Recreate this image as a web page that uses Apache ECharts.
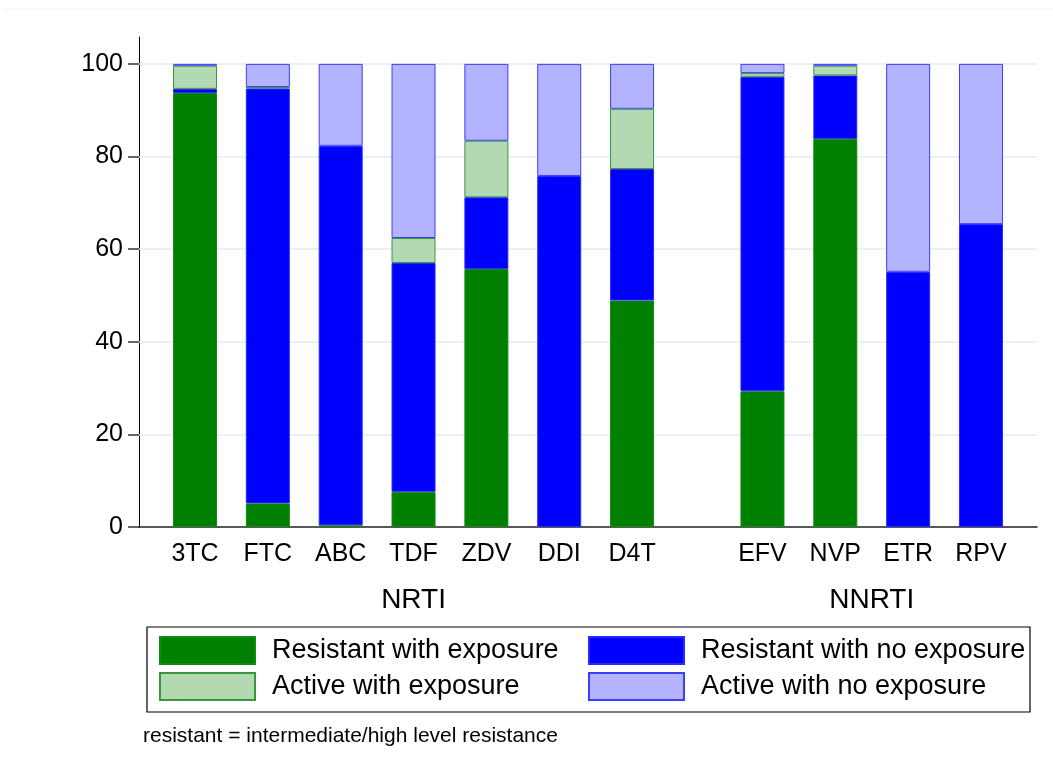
<!DOCTYPE html>
<html>
<head>
<meta charset="utf-8">
<script src="https://cdn.jsdelivr.net/npm/echarts@6/dist/echarts.min.js"></script>
<style>
  html, body { margin: 0; padding: 0; background: #fff; }
  #chart { width: 1053px; height: 772px; }
</style>
</head>
<body>
<div id="chart"></div>
<script>
// Drug classes and the drugs within each class
const groupNames = ['NRTI', 'NNRTI'];
const nrtiDrugs = ['3TC', 'FTC', 'ABC', 'TDF', 'ZDV', 'DDI', 'D4T'];
const nnrtiDrugs = ['EFV', 'NVP', 'ETR', 'RPV'];

// Percent of patients in each category, one value per drug (NRTI then NNRTI)
const resistantWithExposure   = [93.7, 5.1, 0.4, 7.6, 55.7, 0, 48.9, 29.3, 83.8, 0, 0];
const resistantNoExposure     = [0.9, 89.6, 81.9, 49.4, 15.5, 75.8, 28.4, 67.9, 13.7, 55.1, 65.4];
const activeWithExposure      = [5.0, 0.3, 0, 5.4, 12.2, 0, 13.0, 0.8, 2.1, 0, 0];
const activeNoExposure        = [0.4, 5.0, 17.7, 37.6, 16.6, 24.2, 9.7, 2.0, 0.4, 44.9, 34.6];

// Y axis tick labels
const yTicks = [0, 20, 40, 60, 80, 100];

const seriesNames = ['Resistant with exposure', 'Resistant with no exposure',
                     'Active with exposure', 'Active with no exposure'];

// ---- layout of the bar slots along the x axis ----
const GROUP_GAP = 1.79;          // slot distance between last NRTI and first NNRTI bar
const X_PAD_LEFT = 0.769;
const X_PAD_RIGHT = 0.769;
const drugs = nrtiDrugs.concat(nnrtiDrugs);
const slot = drugs.map((d, i) => i < nrtiDrugs.length ? i : (nrtiDrugs.length - 1) + GROUP_GAP + (i - nrtiDrugs.length));
const groupCenters = [
  (slot[0] + slot[nrtiDrugs.length - 1]) / 2,
  (slot[nrtiDrugs.length] + slot[drugs.length - 1]) / 2
];
const xMin = -X_PAD_LEFT;
const xMax = slot[slot.length - 1] + X_PAD_RIGHT;

function nearestIndex(arr, v) {
  let best = 0, bd = Infinity;
  arr.forEach((a, i) => { const d = Math.abs(a - v); if (d < bd) { bd = d; best = i; } });
  return best;
}

const FONT = '"Liberation Sans", Arial, Helvetica, sans-serif';

const styles = [
  { color: '#008000', borderColor: '#138a13' },
  { color: '#0000ff', borderColor: '#2a2aff' },
  { color: '#b3d9b3', borderColor: '#3a963a' },
  { color: '#b3b3ff', borderColor: '#3c3cff' }
];
const valueSets = [resistantWithExposure, resistantNoExposure, activeWithExposure, activeNoExposure];

// Each point is [percent, slot]; the percent comes first so the stack is built on y.
const series = valueSets.map((vals, k) => ({
  name: seriesNames[k],
  type: 'bar',
  stack: 'total',
  barWidth: 44,
  xAxisIndex: 0,
  yAxisIndex: 0,
  z: 3,
  encode: { x: 1, y: 0 },
  itemStyle: { color: styles[k].color, borderColor: styles[k].borderColor, borderWidth: 1 },
  emphasis: { disabled: true },
  data: vals.map((v, i) => [v === 0 ? '-' : v, slot[i]])
}));

// horizontal grid lines at the labelled ticks, kept behind the bars
series[0].markLine = {
  silent: true,
  z: 1,
  symbol: 'none',
  label: { show: false },
  lineStyle: { color: '#e4edef', width: 1.5, type: 'solid' },
  data: yTicks.filter(t => t > 0).map(t => ({ yAxis: t }))
};

// one legend box per entry so the two columns line up
const legendPos = [
  { left: 159, top: 636 }, { left: 588, top: 636 },
  { left: 159, top: 672 }, { left: 588, top: 672 }
];
const legends = seriesNames.map((n, k) => ({
  data: [n],
  left: legendPos[k].left,
  top: legendPos[k].top,
  padding: 0,
  itemWidth: 95,
  itemHeight: 27,
  icon: 'rect',
  selectedMode: false,
  textStyle: { fontSize: 27, color: '#000', fontFamily: FONT, padding: [2, 0, 0, 12] }
}));

const chart = echarts.init(document.getElementById('chart'), null, { renderer: 'canvas' });
chart.setOption({
  animation: false,
  backgroundColor: '#fff',
  grid: { left: 139, right: 16, top: 37, bottom: 245 },
  legend: legends,
  xAxis: [
    {
      type: 'value', min: xMin, max: xMax, position: 'bottom',
      axisLine: { show: true, onZero: false, lineStyle: { color: '#222', width: 1.5 } },
      axisTick: { show: false },
      splitLine: { show: false },
      axisLabel: {
        customValues: slot,
        formatter: v => drugs[nearestIndex(slot, v)],
        fontSize: 25, color: '#000', fontFamily: FONT, margin: 15
      }
    },
    {
      type: 'value', min: xMin, max: xMax, position: 'bottom', offset: 45,
      axisLine: { show: false },
      axisTick: { show: false },
      splitLine: { show: false },
      axisLabel: {
        customValues: groupCenters,
        formatter: v => groupNames[nearestIndex(groupCenters, v)],
        fontSize: 28, color: '#000', fontFamily: FONT, margin: 14
      }
    }
  ],
  yAxis: {
    type: 'value', min: 0, max: 105.8,
    axisLine: { show: true, onZero: false, lineStyle: { color: '#000', width: 1 } },
    axisTick: { show: true, length: 11, customValues: yTicks, lineStyle: { color: '#333', width: 1.5 } },
    splitLine: { show: false },
    axisLabel: {
      customValues: yTicks,
      fontSize: 25, color: '#000', fontFamily: FONT, margin: 16
    }
  },
  series: series,
  graphic: [
    { type: 'line', shape: { x1: 4, y1: 9, x2: 1053, y2: 9 }, style: { stroke: '#f0f0f0', lineWidth: 1 }, silent: true },
    { type: 'rect', shape: { x: 147, y: 627, width: 883, height: 85 }, style: { fill: 'none', stroke: '#000', lineWidth: 1.2 }, silent: true },
    { type: 'text', left: 143, top: 726, style: { text: 'resistant = intermediate/high level resistance', fontSize: 21, fill: '#000', fontFamily: FONT }, silent: true }
  ]
});
</script>
</body>
</html>
